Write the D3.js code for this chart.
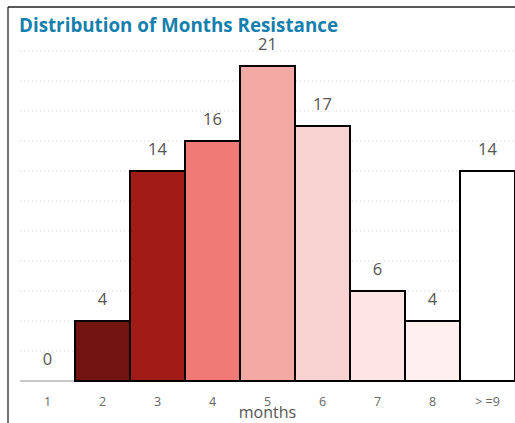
<!DOCTYPE html>
<html>
<head>
<meta charset="utf-8">
<script src="https://cdn.jsdelivr.net/npm/d3@7"></script>
<style>
  body { margin: 0; background: #fff; }
  svg { display: block; font-family: "Open Sans", "Noto Sans", sans-serif; }
</style>
</head>
<body>
<svg id="chart" width="515" height="423"></svg>
<script>
// chart data
const categories = ["1", "2", "3", "4", "5", "6", "7", "8", "> =9"];
const counts = [0, 4, 14, 16, 21, 17, 6, 4, 14];
const barColors = ["#5a0d0b", "#721410", "#a21c17", "#ef7a76", "#f3a9a4", "#f9d3d1", "#fbe4e3", "#fdf0ef", "#ffffff"];
const gridTicks = [2, 4, 6, 8, 10, 12, 14, 16, 18, 20, 22];

const svg = d3.select("#chart");

// frame around the visual
svg.append("line").attr("x1", 8).attr("x2", 8).attr("y1", 7).attr("y2", 423)
  .attr("stroke", "#444").attr("stroke-width", 1.5);
svg.append("line").attr("x1", 8).attr("x2", 515).attr("y1", 7).attr("y2", 7)
  .attr("stroke", "#222").attr("stroke-width", 1.5);

// title
svg.append("text")
  .attr("x", 19).attr("y", 32)
  .attr("font-size", 18.8).attr("font-weight", "bold")
  .attr("fill", "#1580ad")
  .text("Distribution of Months Resistance");

const x = d3.scaleBand().domain(categories).range([20, 515]).padding(0);
const y = d3.scaleLinear().domain([0, 22]).range([381, 51]);

// dotted gridlines
svg.append("g").selectAll("line")
  .data(gridTicks)
  .enter()
  .append("line")
  .attr("x1", 20).attr("x2", 515)
  .attr("y1", d => y(d)).attr("y2", d => y(d))
  .attr("stroke", "#ddd").attr("stroke-dasharray", "1.5,2.5");

// baseline
svg.append("line").attr("x1", 20).attr("x2", 515).attr("y1", y(0)).attr("y2", y(0))
  .attr("stroke", "#c8c8c8").attr("stroke-width", 2);

// bars
const data = categories.map((c, i) => ({ cat: c, value: counts[i], color: barColors[i] }));

svg.append("g").selectAll("rect")
  .data(data.filter(d => d.value > 0))
  .enter()
  .append("rect")
  .attr("x", d => x(d.cat))
  .attr("y", d => y(d.value))
  .attr("width", x.bandwidth())
  .attr("height", d => y(0) - y(d.value))
  .attr("fill", d => d.color)
  .attr("stroke", "#000").attr("stroke-width", 2);

// value labels
svg.append("g").selectAll("text")
  .data(data)
  .enter()
  .append("text")
  .attr("x", d => x(d.cat) + x.bandwidth() / 2)
  .attr("y", d => y(d.value) - 16)
  .attr("text-anchor", "middle")
  .attr("font-size", 16.5)
  .attr("fill", "#555")
  .text(d => d.value);

// x axis labels
const xAxis = svg.append("g")
  .attr("transform", `translate(0,${y(0)})`)
  .call(d3.axisBottom(x).tickSize(0).tickPadding(16));
xAxis.select(".domain").remove();
xAxis.selectAll("text")
  .attr("font-size", 12.5)
  .attr("font-family", "'Open Sans', 'Noto Sans', sans-serif")
  .attr("fill", "#666");

// axis title
svg.append("text")
  .attr("x", (20 + 515) / 2).attr("y", 418)
  .attr("text-anchor", "middle")
  .attr("font-size", 16)
  .attr("fill", "#555")
  .text("months");
</script>
</body>
</html>
